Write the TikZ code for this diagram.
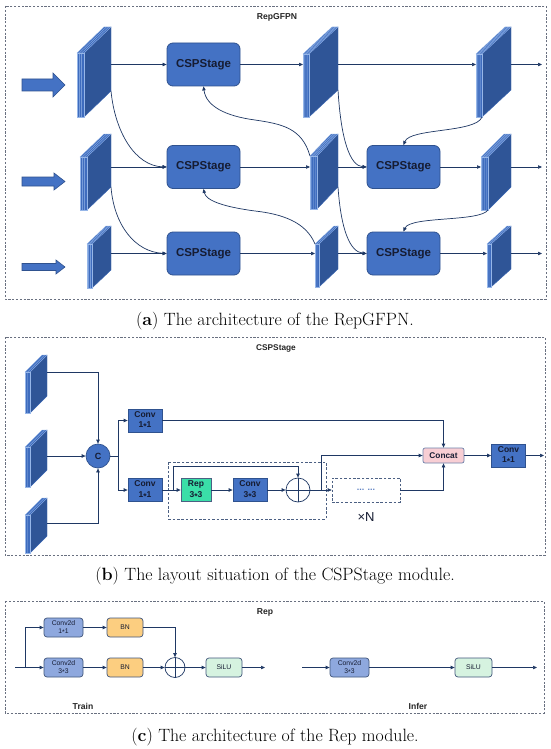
\documentclass[tikz,border=0pt]{standalone}
\usepackage{fontspec}
\setsansfont{Liberation Sans}
\usetikzlibrary{arrows.meta}
\definecolor{lnc}{RGB}{31,56,100}
\definecolor{cspf}{RGB}{68,114,196}
\definecolor{cspb}{RGB}{47,82,143}
\definecolor{side}{RGB}{47,85,151}
\definecolor{front}{RGB}{62,108,190}
\definecolor{stripe}{RGB}{150,182,232}
\definecolor{txt}{RGB}{22,28,50}
\definecolor{pan}{RGB}{105,112,128}
\definecolor{repf}{RGB}{58,222,168}
\definecolor{ccf}{RGB}{248,206,212}
\definecolor{ccb}{RGB}{110,130,170}
\definecolor{c2f}{RGB}{142,168,222}
\definecolor{bnf}{RGB}{252,206,128}
\definecolor{sif}{RGB}{214,243,224}
\definecolor{dotc}{RGB}{95,130,195}
\newcommand\stx{\raisebox{-0.38ex}{*}}
% feature map slab: x0, y0, front width, layers, height, dx, dy, name
\newcommand\fmap[8]{%
  \pgfmathsetmacro\fmxa{#1+#3}%
  \pgfmathsetmacro\fmxb{#1+#3+#6}%
  \pgfmathsetmacro\fmyt{#2-#7}%
  \pgfmathsetmacro\fmyb{#2-#7+#5}%
  \pgfmathsetmacro\fmyf{#2+#5}%
  \pgfmathtruncatemacro\fmn{#4-1}%
  \filldraw[fill=side,draw=front!70!side,line width=0.4pt] (\fmxa,#2) -- (\fmxb,\fmyt) -- (\fmxb,\fmyb) -- (\fmxa,\fmyf) -- cycle;
  \filldraw[fill=front,draw=stripe,line width=0.35pt] (#1,#2) -- ++(#6,-#7) -- ++(#3,0) -- (\fmxa,#2) -- cycle;
  \filldraw[fill=front,draw=stripe,line width=0.35pt] (#1,#2) rectangle (\fmxa,\fmyf);
  \foreach \i in {1,...,\fmn}{%
    \draw[stripe,line width=0.35pt] ({#1+\i*#3/#4},\fmyf) -- ({#1+\i*#3/#4},#2) -- ++(#6,-#7);}
  \coordinate (#8l) at (#1,#2);
  \coordinate (#8tl) at (#1,#2);
  \coordinate (#8r) at (\fmxb,\fmyt);
  \coordinate (#8br) at (\fmxb,\fmyb);
  \coordinate (#8fb) at (\fmxa,\fmyf);
}
\tikzset{
  ln/.style={draw=lnc,line width=0.7pt},
  arr/.style={ln,-{Triangle[length=4pt,width=3.4pt]}},
  panel/.style={draw=pan,line width=0.6pt,dash pattern=on 2.2pt off 1.6pt},
  idash/.style={draw=lnc!80,line width=0.6pt,dash pattern=on 2.6pt off 1.8pt},
  csp/.style={draw=cspb,fill=cspf,rounded corners=6pt,minimum width=73pt,minimum height=43pt,
    font=\sffamily\bfseries\fontsize{11.5}{13}\selectfont,text=txt,line width=0.8pt,inner sep=0pt},
  convbox/.style={draw=cspb,fill=cspf,minimum width=34pt,minimum height=23pt,align=center,inner sep=0pt,
    font=\sffamily\bfseries\fontsize{8.5}{10.5}\selectfont,text=txt,line width=0.7pt},
  repbox/.style={convbox,fill=repf,draw=lnc!80,minimum width=30pt},
  ccbox/.style={draw=ccb,fill=ccf,rounded corners=2pt,minimum width=41pt,minimum height=15pt,inner sep=0pt,
    font=\sffamily\bfseries\fontsize{8.3}{10}\selectfont,text=txt,line width=0.7pt},
  dotbox/.style={draw=lnc!80,line width=0.6pt,dash pattern=on 2.6pt off 1.8pt,minimum width=68pt,minimum height=24pt,
    inner sep=0pt,font=\sffamily\bfseries\fontsize{9}{10}\selectfont,text=dotc},
  cnode/.style={circle,draw=cspb,fill=cspf,minimum size=24pt,inner sep=0pt,line width=0.7pt,
    font=\sffamily\bfseries\fontsize{9}{10}\selectfont,text=txt},
  plusnode/.style={circle,draw=lnc,fill=white,inner sep=0pt,line width=0.7pt},
  smallbox/.style={rounded corners=3pt,draw=lnc!85,line width=0.7pt,minimum width=39pt,minimum height=19pt,
    inner sep=0pt,align=center,font=\sffamily\fontsize{6.8}{7.8}\selectfont,text=txt},
  c2d/.style={smallbox,fill=c2f},
  bnbox/.style={smallbox,fill=bnf,minimum width=36pt},
  silubox/.style={smallbox,fill=sif,minimum width=36pt},
  ptitle/.style={font=\sffamily\bfseries\fontsize{8.6}{10}\selectfont,text=black!85},
  capt/.style={font=\rmfamily\fontsize{17.8}{19}\selectfont,text=black}
}
\begin{document}
\begin{tikzpicture}[x=1pt,y=-1pt]
\useasboundingbox (0,0) rectangle (550,749);
\fill[white] (0,0) rectangle (550,749);
% ================= panel (a)
\draw[panel] (5,6) rectangle (546,299);
\node[ptitle] (ta) at (277,17) {RepGFPN};
% input arrows
\filldraw[fill=cspf,draw=cspb,line width=0.6pt] (22,79) -- (53,79) -- (53,73) -- (65,85) -- (53,97) -- (53,91) -- (22,91) -- cycle;
\filldraw[fill=cspf,draw=cspb,line width=0.6pt] (22,177) -- (54,177) -- (54,173) -- (65,181.5) -- (54,190) -- (54,186) -- (22,186) -- cycle;
\filldraw[fill=cspf,draw=cspb,line width=0.6pt] (22,263.5) -- (56,263.5) -- (56,260) -- (65,267) -- (56,274) -- (56,270.5) -- (22,270.5) -- cycle;
% slabs
\fmap{77}{53}{7}{3}{64}{27}{26}{A1}
\fmap{80}{157}{7}{3}{53}{24}{23}{A2}
\fmap{87}{244}{5}{3}{44}{19}{18}{A3}
\fmap{303}{54}{6}{4}{63}{29}{27}{B1}
\fmap{310}{156}{7}{4}{53}{21}{22}{B2}
\fmap{315}{244}{4}{2}{43}{19}{18}{B3}
\fmap{476}{54}{6}{4}{63}{29}{27}{D1}
\fmap{481}{157}{7}{4}{53}{23}{23}{D2}
\fmap{487}{244}{4}{2}{43}{20}{18}{D3}
% CSPStage boxes
\node[csp] (S11) at (203.5,64.5) {CSPStage};
\node[csp] (S21) at (203.5,167) {CSPStage};
\node[csp] (S31) at (203.5,253.5) {CSPStage};
\node[csp] (S32) at (403.5,167) {CSPStage};
\node[csp] (S33) at (403.5,253.5) {CSPStage};
\coordinate (o1) at (542,64.5);
\coordinate (o2) at (542,167);
\coordinate (o3) at (542,253.5);
% row 1
\draw[arr] (A1r |- S11.west) -- (S11.west);
\draw[arr] (S11.east) -- (B1l |- S11.east);
\draw[arr] (B1r |- S11.east) -- (D1l |- S11.east);
\draw[arr] (D1r |- o1) -- (o1);
% row 2
\draw[arr] (A2r |- S21.west) -- (S21.west);
\draw[arr] (S21.east) -- (B2l |- S21.east);
\draw[arr] (B2r |- S32.west) -- (S32.west);
\draw[arr] (S32.east) -- (D2l |- S32.east);
\draw[arr] (D2r |- o2) -- (o2);
% row 3
\draw[arr] (A3r |- S31.west) -- (S31.west);
\draw[arr] (S31.east) -- (B3l |- S31.east);
\draw[arr] (B3r |- S33.west) -- (S33.west);
\draw[arr] (S33.east) -- (D3l |- S33.east);
\draw[arr] (D3r |- o3) -- (o3);
% curves
\draw[arr] (A1br) .. controls (115,132) and (135,166) .. (S21.west);
\draw[arr] (A2br) .. controls (114,225) and (135,252) .. (S31.west);
\draw[arr] (B2tl) .. controls (302,128) and (282,124) .. (255,120) .. controls (225,116) and (206,106) .. (S11.south);
\draw[arr] (B3tl) .. controls (306,222) and (282,214) .. (255,211) .. controls (225,207) and (206,201) .. (S21.south);
\draw[arr] (B1br) .. controls (341,140) and (350,166) .. (S32.west);
\draw[arr] (B2br) .. controls (341,230) and (350,252) .. (S33.west);
\draw[arr] (D1fb) .. controls (476,133) and (410,128) .. (S32.north);
\draw[arr] (D2fb) .. controls (480,222) and (410,216) .. (S33.north);
\node[capt] (ca) at (275,321) {(\textbf{a}) The architecture of the RepGFPN.};
% ================= panel (b)
\draw[panel] (5,337) rectangle (545,555);
\node[ptitle,font=\sffamily\bfseries\fontsize{8.3}{10}\selectfont] (tb) at (276,348) {CSPStage};
\fmap{25}{372}{5}{2}{41}{17}{17}{P1}
\fmap{25}{447}{5}{2}{40}{17}{17}{P2}
\fmap{25}{515}{5}{2}{38}{17}{17}{P3}
\coordinate (P1o) at (47,372);
\coordinate (P3o) at (47,523);
\node[cnode] (C) at (98,456) {C};
\draw[arr] (P1o) -| (C.north);
\draw[arr] (P2r |- C.west) -- (C.west);
\draw[arr] (P3o) -| (C.south);
\node[convbox] (K1) at (145,420.5) {Conv\\1\stx1};
\node[convbox] (K2) at (145,490) {Conv\\1\stx1};
\coordinate (br1) at (118,456);
\draw[ln] (C.east) -- (br1);
\draw[arr] (br1) |- (K1.west);
\draw[arr] (br1) |- (K2.west);
\draw[idash] (168,462) rectangle (326,519);
\node[repbox] (R) at (196,490) {Rep\\3\stx3};
\node[convbox] (K3) at (250,490) {Conv\\3\stx3};
\node[plusnode,minimum size=24pt] (PL) at (298,490) {};
\draw[ln] (PL.north) -- (PL.south);
\draw[ln] (PL.west) -- (PL.east);
\node[dotbox] (DT) at (366,490) {... ...};
\node[ccbox] (CC) at (443.5,455.5) {Concat};
\node[convbox] (K4) at (508.5,455.5) {Conv\\1\stx1};
\draw[arr] (K1.east) -| (CC.north);
\draw[arr] (K2.east) -- (R.west);
\coordinate (br2) at (173,490);
\coordinate (br2t) at (298,466);
\draw[arr] (br2) |- (br2t) -- (PL.north);
\draw[arr] (R.east) -- (K3.west);
\draw[arr] (K3.east) -- (PL.west);
\draw[arr] (PL.east) -- (DT.west);
\coordinate (br3) at (321,490);
\draw[arr] (br3) |- (CC.west);
\draw[arr] (DT.east) -| (CC.south);
\draw[arr] (CC.east) -- (K4.west);
\coordinate (bout) at (544,455.5);
\draw[arr] (K4.east) -- (bout);
\node[font=\sffamily\fontsize{13}{14}\selectfont,text=txt] (xn) at (366,517) {×N};
\node[capt] (cb) at (275,576) {(\textbf{b}) The layout situation of the CSPStage module.};
% ================= panel (c)
\draw[panel] (5,601) rectangle (544,713);
\node[ptitle] (tc) at (265,612) {Rep};
\coordinate (cin) at (15,667.5);
\coordinate (cbr) at (25,667.5);
\node[c2d] (T1) at (63.5,627.5) {Conv2d\\1\stx1};
\node[c2d] (T2) at (63.5,667.5) {Conv2d\\3\stx3};
\node[bnbox] (N1) at (125,627.5) {BN};
\node[bnbox] (N2) at (125,667.5) {BN};
\node[plusnode,minimum size=20pt] (Q) at (175,667.5) {};
\draw[ln] (Q.north) -- (Q.south);
\draw[ln] (Q.west) -- (Q.east);
\node[silubox] (U) at (224,667.5) {SiLU};
\coordinate (cout) at (265,667.5);
\draw[ln] (cin) -- (cbr);
\draw[arr] (cbr) -- (T2.west);
\draw[arr] (cbr) |- (T1.west);
\draw[arr] (T1.east) -- (N1.west);
\draw[arr] (T2.east) -- (N2.west);
\draw[arr] (N1.east) -| (Q.north);
\draw[arr] (N2.east) -- (Q.west);
\draw[arr] (Q.east) -- (U.west);
\draw[arr] (U.east) -- (cout);
\coordinate (iin) at (302,667.5);
\node[c2d] (V) at (349.5,667.5) {Conv2d\\3\stx3};
\node[silubox,minimum width=37pt] (W) at (473.5,667.5) {SiLU};
\coordinate (iout) at (537,667.5);
\draw[arr] (iin) -- (V.west);
\draw[arr] (V.east) -- (W.west);
\draw[arr] (W.east) -- (iout);
\node[ptitle] (tr) at (83,706) {Train};
\node[ptitle] (ti) at (418,706) {Infer};
\node[capt] (cc) at (275,737) {(\textbf{c}) The architecture of the Rep module.};
\end{tikzpicture}
\end{document}
